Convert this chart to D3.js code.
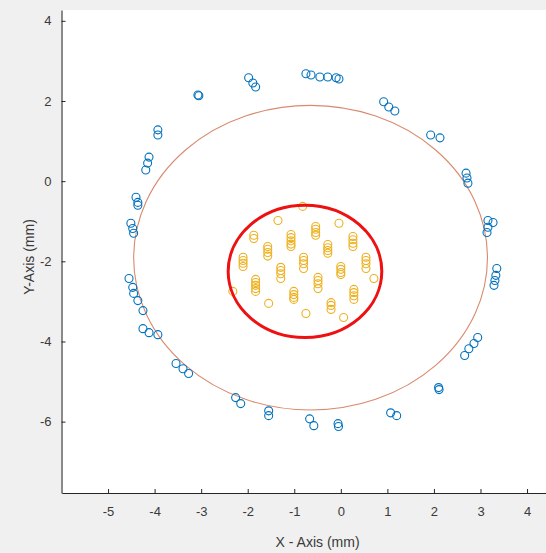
<!DOCTYPE html>
<html>
<head>
<meta charset="utf-8">
<script src="https://cdn.jsdelivr.net/npm/d3@7"></script>
<style>
  html, body { margin: 0; padding: 0; background: #f0f0f0; }
  svg { display: block; }
</style>
</head>
<body>
<svg id="chart" width="546" height="553"></svg>
<script>
// ---------- data ----------
const xTicks = [-5, -4, -3, -2, -1, 0, 1, 2, 3, 4];
const yTicks = [-6, -4, -2, 0, 2, 4];
const xLabel = "X - Axis (mm)";
const yLabel = "Y-Axis (mm)";

// outer reference circle [cx, cy, r]
const outerCircle = [-0.65, -1.91, 3.8];
// inner red circle [cx, cy, r]
const innerCircle = [-0.77, -2.25, 1.65];

// blue points (outer ring)
const bluePoints = [
  [-0.75, 2.68], [-0.64, 2.65], [-0.45, 2.6], [-0.28, 2.6], [-0.1, 2.58], [-0.04, 2.55],
  [0.92, 1.98], [1.03, 1.85], [1.16, 1.75],
  [1.93, 1.15], [2.13, 1.08],
  [2.69, 0.2], [2.71, 0.08], [2.73, -0.05],
  [3.16, -0.98], [3.27, -1.03], [3.16, -1.15], [3.14, -1.28],
  [3.35, -2.18], [3.33, -2.35], [3.31, -2.48], [3.29, -2.6],
  [2.94, -3.9], [2.86, -4.05], [2.75, -4.18], [2.66, -4.35],
  [2.1, -5.15], [2.11, -5.2],
  [1.07, -5.78], [1.2, -5.85],
  [-0.67, -5.93], [-0.58, -6.1],
  [-0.06, -6.05], [-0.05, -6.12],
  [-4.55, -2.43], [-4.47, -2.65], [-4.45, -2.8], [-4.36, -2.98], [-4.25, -3.23],
  [-4.25, -3.68], [-4.12, -3.78], [-3.93, -3.83],
  [-3.54, -4.55], [-3.39, -4.68], [-3.27, -4.8],
  [-2.26, -5.4], [-2.15, -5.55],
  [-1.55, -5.73], [-1.55, -5.85],
  [-1.98, 2.58], [-1.89, 2.45], [-1.83, 2.35],
  [-3.07, 2.15], [-3.05, 2.13],
  [-3.93, 1.28], [-3.93, 1.15],
  [-4.12, 0.6], [-4.15, 0.45], [-4.19, 0.28],
  [-4.4, -0.4], [-4.36, -0.53], [-4.36, -0.6],
  [-4.51, -1.05], [-4.47, -1.18], [-4.45, -1.3]
];

// yellow points (inner cluster)
const yellowPoints = [
  [-0.82, -0.63],
  [-1.35, -0.98],
  [-0.54, -1.13], [-0.54, -1.2], [-0.54, -1.28], [-0.54, -1.35],
  [-0.04, -1.05],
  [-1.87, -1.35], [-1.87, -1.43],
  [-1.07, -1.33], [-1.07, -1.41], [-1.07, -1.49], [-1.07, -1.57], [-1.07, -1.63],
  [0.26, -1.38], [0.26, -1.46], [0.26, -1.55], [0.26, -1.63],
  [-1.57, -1.63], [-1.57, -1.7], [-1.57, -1.78], [-1.57, -1.87],
  [-0.28, -1.58], [-0.28, -1.66], [-0.28, -1.73], [-0.28, -1.8],
  [-2.1, -1.9], [-2.1, -1.98], [-2.1, -2.05], [-2.1, -2.13],
  [-0.8, -1.9], [-0.8, -1.98], [-0.8, -2.06], [-0.8, -2.18],
  [0.54, -1.9], [0.54, -1.98], [0.54, -2.06], [0.54, -2.18],
  [-1.29, -2.15], [-1.29, -2.23], [-1.29, -2.31], [-1.29, -2.43],
  [0.0, -2.13], [0.0, -2.2], [0.0, -2.28], [0.0, -2.33],
  [-1.83, -2.45], [-1.83, -2.53], [-1.83, -2.6], [-1.83, -2.68], [-1.83, -2.75],
  [-0.49, -2.4], [-0.49, -2.48], [-0.49, -2.56], [-0.49, -2.68],
  [-1.01, -2.75], [-1.01, -2.83], [-1.01, -2.9], [-1.01, -2.95],
  [0.28, -2.7], [0.28, -2.78], [0.28, -2.86], [0.28, -2.95],
  [-1.55, -3.05],
  [-0.21, -3.03], [-0.21, -3.1], [-0.21, -3.2],
  [-0.75, -3.3],
  [0.06, -3.4],
  [-2.32, -2.75],
  [0.71, -2.43]
];

// ---------- chart ----------
const svg = d3.select("#chart");
const xDomain = [-6, 5];
const yDomain = [-7.78, 4.27];
const x = d3.scaleLinear().domain(xDomain).range([61.5, 573.6]);
const y = d3.scaleLinear().domain(yDomain).range([493, 10]);

const axisColor = "#262626";
const font = "'Liberation Sans', Arial, sans-serif";

// plot area
svg.append("rect")
  .attr("x", x(xDomain[0])).attr("y", y(yDomain[1]))
  .attr("width", x(xDomain[1]) - x(xDomain[0]))
  .attr("height", y(yDomain[0]) - y(yDomain[1]))
  .attr("fill", "#ffffff");

svg.append("clipPath").attr("id", "clip")
  .append("rect")
  .attr("x", x(xDomain[0])).attr("y", y(yDomain[1]))
  .attr("width", x(xDomain[1]) - x(xDomain[0]))
  .attr("height", y(yDomain[0]) - y(yDomain[1]));

const plot = svg.append("g").attr("clip-path", "url(#clip)");

// outer circle
plot.append("ellipse")
  .attr("cx", x(outerCircle[0])).attr("cy", y(outerCircle[1]))
  .attr("rx", x(outerCircle[0] + outerCircle[2]) - x(outerCircle[0]))
  .attr("ry", y(outerCircle[1]) - y(outerCircle[1] + outerCircle[2]))
  .attr("fill", "none").attr("stroke", "#d98a6e").attr("stroke-width", 1.1);

// blue points
plot.selectAll("circle.blue").data(bluePoints).join("circle")
  .attr("class", "blue")
  .attr("cx", d => x(d[0])).attr("cy", d => y(d[1])).attr("r", 4)
  .attr("fill", "none").attr("stroke", "#0072BD").attr("stroke-width", 1.1);

// yellow points
plot.selectAll("circle.yellow").data(yellowPoints).join("circle")
  .attr("class", "yellow")
  .attr("cx", d => x(d[0])).attr("cy", d => y(d[1])).attr("r", 4)
  .attr("fill", "none").attr("stroke", "#EDB120").attr("stroke-width", 1.1);

// inner red circle
plot.append("ellipse")
  .attr("cx", x(innerCircle[0])).attr("cy", y(innerCircle[1]))
  .attr("rx", x(innerCircle[0] + innerCircle[2]) - x(innerCircle[0]))
  .attr("ry", y(innerCircle[1]) - y(innerCircle[1] + innerCircle[2]))
  .attr("fill", "none").attr("stroke", "#ee1111").attr("stroke-width", 3);

// axes
const fmt = d => String(d);
const xAxis = d3.axisBottom(x).tickValues(xTicks).tickSizeInner(-4).tickSizeOuter(0).tickPadding(14).tickFormat(fmt);
const gx = svg.append("g").attr("transform", `translate(0,${y(yDomain[0])})`).call(xAxis);
const yAxis = d3.axisLeft(y).tickValues(yTicks).tickSizeInner(-4).tickSizeOuter(0).tickPadding(10).tickFormat(fmt);
const gy = svg.append("g").attr("transform", `translate(${x(xDomain[0])},0)`).call(yAxis);

[gx, gy].forEach(g => {
  g.select(".domain").attr("stroke", axisColor).attr("stroke-width", 1);
  g.selectAll(".tick line").attr("stroke", axisColor);
  g.selectAll(".tick text").attr("fill", "#3a3a3a")
    .attr("font-family", font).attr("font-size", 13);
});
gy.select(".domain").attr("stroke", "#8a8a8a").attr("stroke-width", 2);

// axis labels
svg.append("text")
  .attr("x", (x(xDomain[0]) + x(xDomain[1])) / 2).attr("y", 547)
  .attr("text-anchor", "middle").attr("fill", "#3a3a3a")
  .attr("font-family", font).attr("font-size", 14)
  .text(xLabel);

svg.append("text")
  .attr("transform", `translate(34,257) rotate(-90)`)
  .attr("text-anchor", "middle").attr("fill", "#3a3a3a")
  .attr("font-family", font).attr("font-size", 14)
  .text(yLabel);
</script>
</body>
</html>
